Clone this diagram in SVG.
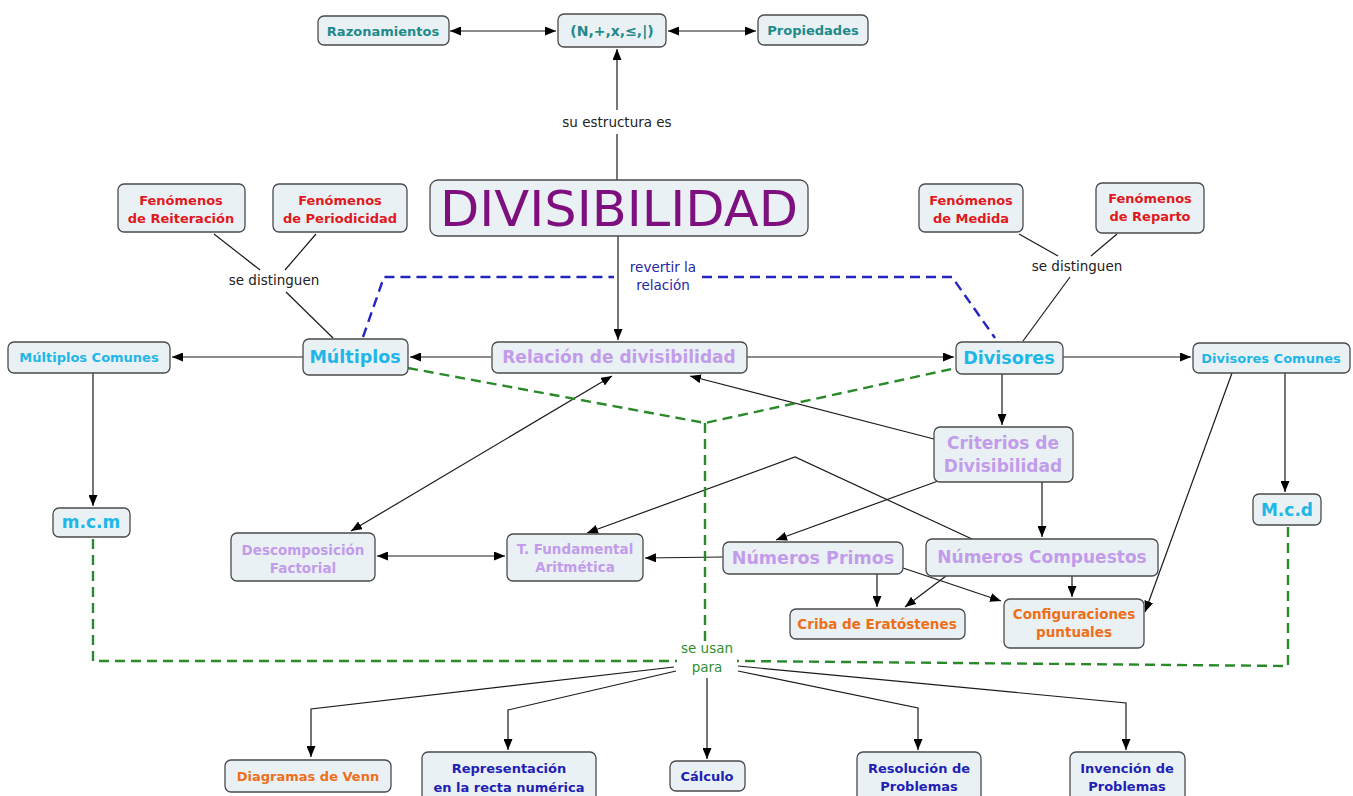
<svg xmlns="http://www.w3.org/2000/svg" width="1353" height="796" viewBox="0 0 1353 796">
<style>
.box{fill:#eaf1f4;stroke:#4a4a4a;stroke-width:1.3}
.t{font-family:"DejaVu Sans","Liberation Sans",sans-serif;font-weight:bold;text-anchor:middle}
.teal{fill:#1e8a8a;font-size:13px}
.red{fill:#e0191e;font-size:13px}
.cyan{fill:#1fb6e8}
.lp{fill:#c29ceb}
.or{fill:#ee6f1a;font-size:13.5px}
.db{fill:#1f1fb4;font-size:13px}
.lbl{font-family:"DejaVu Sans","Liberation Sans",sans-serif;font-size:13.5px;text-anchor:middle}
.ln{fill:none;stroke:#1a1a1a;stroke-width:1.2}
.arr{marker-end:url(#ah)}
.both{marker-start:url(#ah);marker-end:url(#ah)}
.gd{fill:none;stroke:#2a8a2a;stroke-width:2.4;stroke-dasharray:10 6}
.bd{fill:none;stroke:#2424c0;stroke-width:2.4;stroke-dasharray:10 6}
</style>
<defs>
<marker id="ah" markerUnits="userSpaceOnUse" markerWidth="11" markerHeight="9" refX="11" refY="4.5" orient="auto-start-reverse"><path d="M0,0 L11,4.5 L0,9 z" fill="#000"/></marker>
</defs>

<g id="connectors">
<line class="ln both" x1="450" y1="31" x2="556" y2="31"/>
<line class="ln both" x1="668" y1="31" x2="756" y2="31"/>
<line class="ln" x1="617" y1="180" x2="617" y2="134"/>
<line class="ln arr" x1="617" y1="110" x2="617" y2="49"/>
<line class="ln arr" x1="618" y1="236" x2="618" y2="340"/>
<line class="ln arr" x1="491" y1="357" x2="410" y2="357"/>
<line class="ln arr" x1="303" y1="357" x2="172" y2="357"/>
<line class="ln arr" x1="747" y1="357" x2="954" y2="357"/>
<line class="ln arr" x1="1063" y1="357" x2="1191" y2="357"/>
<line class="ln arr" x1="93" y1="373" x2="93" y2="506"/>
<line class="ln arr" x1="1285" y1="373" x2="1285" y2="492"/>
<line class="ln arr" x1="1232" y1="373" x2="1145" y2="612"/>
<line class="ln arr" x1="1002" y1="374" x2="1002" y2="425"/>
<line class="ln arr" x1="934" y1="439" x2="690" y2="376"/>
<line class="ln both" x1="351" y1="531" x2="612" y2="376"/>
<line class="ln both" x1="377" y1="556" x2="505" y2="556"/>
<polyline class="ln arr" points="972,539 795,457 587,533"/>
<line class="ln arr" x1="723" y1="557" x2="645" y2="558"/>
<line class="ln arr" x1="938" y1="481" x2="776" y2="540"/>
<line class="ln arr" x1="1042" y1="482" x2="1042" y2="537"/>
<line class="ln arr" x1="877" y1="574" x2="877" y2="607"/>
<line class="ln arr" x1="946" y1="576" x2="905" y2="607"/>
<line class="ln arr" x1="903" y1="568" x2="1001" y2="601"/>
<line class="ln arr" x1="1072" y1="576" x2="1072" y2="597"/>
<line class="ln" x1="214" y1="234" x2="260" y2="270"/>
<line class="ln" x1="316" y1="234" x2="285" y2="270"/>
<line class="ln" x1="286" y1="292" x2="333" y2="338"/>
<line class="ln" x1="1019" y1="234" x2="1058" y2="256"/>
<line class="ln" x1="1117" y1="234" x2="1091" y2="256"/>
<line class="ln" x1="1070" y1="277" x2="1023" y2="341"/>
<polyline class="ln arr" points="674,667 311,709 311,757"/>
<polyline class="ln arr" points="676,671 508,710 508,750"/>
<line class="ln arr" x1="707" y1="678" x2="707" y2="759"/>
<polyline class="ln arr" points="738,671 918,708 918,750"/>
<polyline class="ln arr" points="738,666 1126,703 1126,750"/>
<polyline class="bd" points="363,337 384,277 614,277"/>
<polyline class="bd" points="702,277 952,277 995,338"/>
<polyline class="gd" points="408,368 705,423 956,368"/>
<line class="gd" x1="705" y1="423" x2="705" y2="641"/>
<polyline class="gd" points="93,539 93,661 677,661"/>
<polyline class="gd" points="1288,527 1288,666 737,661"/>
<text class="lbl" x="617" y="127" fill="#222">su estructura es</text>
<text class="lbl" x="274" y="285" fill="#222">se distinguen</text>
<text class="lbl" x="1077" y="271" fill="#222">se distinguen</text>
<text class="lbl" x="663" y="272" fill="#2626a8">revertir la</text>
<text class="lbl" x="663" y="290" fill="#2626a8">relación</text>
<text class="lbl" x="707" y="653" fill="#2f8f2f">se usan</text>
<text class="lbl" x="707" y="672" fill="#2f8f2f">para</text>
</g>

<g id="razonamientos"><rect class="box" x="318" y="16" width="131" height="29" rx="6"/><text class="t teal" x="383" y="36">Razonamientos</text></g>
<g id="estructura"><rect class="box" x="558" y="14" width="108" height="33" rx="6"/><text class="t teal" x="612" y="36" style="font-size:14px">(N,+,x,≤,|)</text></g>
<g id="propiedades"><rect class="box" x="758" y="15" width="110" height="30" rx="6"/><text class="t teal" x="813" y="35">Propiedades</text></g>
<g id="divisibilidad"><rect class="box" x="430" y="180" width="378" height="56" rx="8"/><text x="619" y="226" font-family="DejaVu Sans, Liberation Sans, sans-serif" font-size="50" fill="#7e0f7e" text-anchor="middle" textLength="358" lengthAdjust="spacingAndGlyphs">DIVISIBILIDAD</text></g>
<g id="fen_reiteracion"><rect class="box" x="118" y="184" width="127" height="48" rx="6"/><text class="t red" x="181" y="205">Fenómenos</text><text class="t red" x="181" y="223">de Reiteración</text></g>
<g id="fen_periodicidad"><rect class="box" x="273" y="184" width="134" height="48" rx="6"/><text class="t red" x="340" y="205">Fenómenos</text><text class="t red" x="340" y="223">de Periodicidad</text></g>
<g id="fen_medida"><rect class="box" x="919" y="184" width="104" height="48" rx="6"/><text class="t red" x="971" y="205">Fenómenos</text><text class="t red" x="971" y="223">de Medida</text></g>
<g id="fen_reparto"><rect class="box" x="1096" y="183" width="108" height="50" rx="6"/><text class="t red" x="1150" y="203">Fenómenos</text><text class="t red" x="1150" y="221">de Reparto</text></g>
<g id="multiplos_comunes"><rect class="box" x="8" y="342" width="162" height="31" rx="6"/><text class="t cyan" x="89" y="362" font-size="13">Múltiplos Comunes</text></g>
<g id="multiplos"><rect class="box" x="303" y="339" width="105" height="36" rx="6"/><text class="t cyan" x="355" y="363" font-size="17.5">Múltiplos</text></g>
<g id="relacion"><rect class="box" x="492" y="342" width="255" height="31" rx="6"/><text class="t lp" x="619" y="363" font-size="17">Relación de divisibilidad</text></g>
<g id="divisores"><rect class="box" x="956" y="342" width="107" height="32" rx="6"/><text class="t cyan" x="1009" y="364" font-size="17.5">Divisores</text></g>
<g id="divisores_comunes"><rect class="box" x="1193" y="343" width="157" height="30" rx="6"/><text class="t cyan" x="1271" y="363" font-size="13">Divisores Comunes</text></g>
<g id="criterios"><rect class="box" x="934" y="427" width="139" height="55" rx="6"/><text class="t lp" x="1003" y="449" font-size="17">Criterios de</text><text class="t lp" x="1003" y="472" font-size="17">Divisibilidad</text></g>
<g id="mcm"><rect class="box" x="53" y="508" width="77" height="29" rx="6"/><text class="t cyan" x="91" y="528" font-size="17">m.c.m</text></g>
<g id="mcd"><rect class="box" x="1253" y="494" width="68" height="31" rx="6"/><text class="t cyan" x="1287" y="516" font-size="17">M.c.d</text></g>
<g id="descomposicion"><rect class="box" x="231" y="533" width="144" height="48" rx="6"/><text class="t lp" x="303" y="555" font-size="13.5">Descomposición</text><text class="t lp" x="303" y="573" font-size="13.5">Factorial</text></g>
<g id="tfundamental"><rect class="box" x="507" y="534" width="136" height="47" rx="6"/><text class="t lp" x="575" y="554" font-size="13.5">T. Fundamental</text><text class="t lp" x="575" y="572" font-size="13.5">Aritmética</text></g>
<g id="primos"><rect class="box" x="723" y="542" width="180" height="32" rx="6"/><text class="t lp" x="813" y="564" font-size="17.5">Números Primos</text></g>
<g id="compuestos"><rect class="box" x="926" y="539" width="232" height="37" rx="6"/><text class="t lp" x="1042" y="563" font-size="17">Números Compuestos</text></g>
<g id="criba"><rect class="box" x="790" y="609" width="175" height="30" rx="6"/><text class="t or" x="877" y="629">Criba de Eratóstenes</text></g>
<g id="configuraciones"><rect class="box" x="1004" y="599" width="140" height="49" rx="6"/><text class="t or" x="1074" y="619">Configuraciones</text><text class="t or" x="1074" y="637">puntuales</text></g>
<g id="venn"><rect class="box" x="225" y="760" width="166" height="32" rx="6"/><text class="t or" x="308" y="781" style="font-size:13px">Diagramas de Venn</text></g>
<g id="representacion"><rect class="box" x="422" y="752" width="174" height="50" rx="6"/><text class="t db" x="509" y="773">Representación</text><text class="t db" x="509" y="792">en la recta numérica</text></g>
<g id="calculo"><rect class="box" x="670" y="761" width="75" height="30" rx="6"/><text class="t db" x="707" y="781">Cálculo</text></g>
<g id="resolucion"><rect class="box" x="857" y="752" width="124" height="50" rx="6"/><text class="t db" x="919" y="773">Resolución de</text><text class="t db" x="919" y="791">Problemas</text></g>
<g id="invencion"><rect class="box" x="1070" y="752" width="115" height="50" rx="6"/><text class="t db" x="1127" y="773">Invención de</text><text class="t db" x="1127" y="791">Problemas</text></g>
</svg>
